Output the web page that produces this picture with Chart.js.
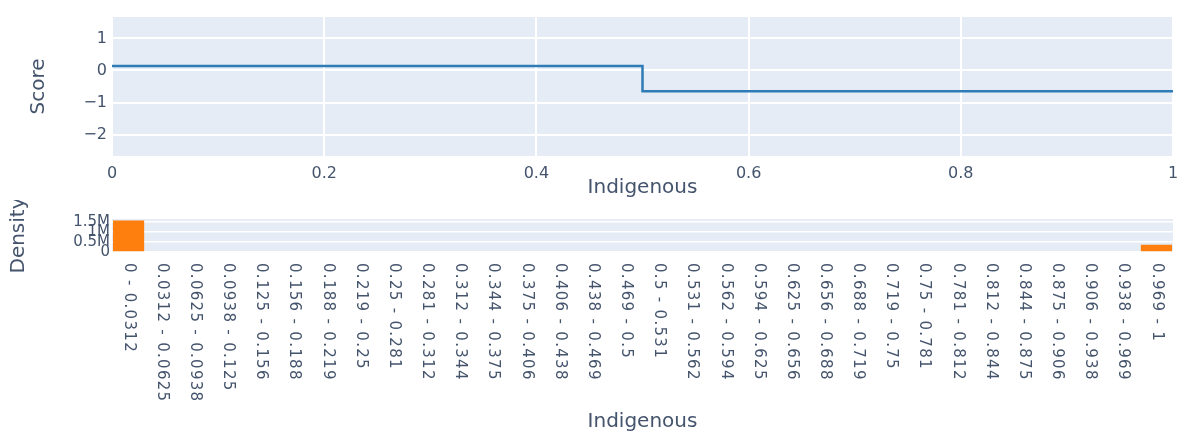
<!DOCTYPE html>
<html>
<head>
<meta charset="utf-8">
<script src="https://cdn.jsdelivr.net/npm/chart.js@4.4.1/dist/chart.umd.min.js"></script>
<style>
	html, body { margin: 0; padding: 0; background: #fff; }
	#scoreBox { position: absolute; left: 0; top: 0; width: 1192px; height: 200px; }
	#densityBox { position: absolute; left: 0; top: 200px; width: 1192px; height: 236px; }
</style>
</head>
<body>
<div id="scoreBox"><canvas id="score"></canvas></div>
<div id="densityBox"><canvas id="density"></canvas></div>
<script>
var scoreX = [0, 0.5, 0.5, 1];
var scoreY = [0.14, 0.14, -0.65, -0.65];

var binLabels = [
	'0 - 0.0312', '0.0312 - 0.0625', '0.0625 - 0.0938', '0.0938 - 0.125',
	'0.125 - 0.156', '0.156 - 0.188', '0.188 - 0.219', '0.219 - 0.25',
	'0.25 - 0.281', '0.281 - 0.312', '0.312 - 0.344', '0.344 - 0.375',
	'0.375 - 0.406', '0.406 - 0.438', '0.438 - 0.469', '0.469 - 0.5',
	'0.5 - 0.531', '0.531 - 0.562', '0.562 - 0.594', '0.594 - 0.625',
	'0.625 - 0.656', '0.656 - 0.688', '0.688 - 0.719', '0.719 - 0.75',
	'0.75 - 0.781', '0.781 - 0.812', '0.812 - 0.844', '0.844 - 0.875',
	'0.875 - 0.906', '0.906 - 0.938', '0.938 - 0.969', '0.969 - 1'
];
var densityValues = [
	1580000, 0, 0, 0, 0, 0, 0, 0, 0, 0, 0, 0, 0, 0, 0, 0,
	0, 0, 0, 0, 0, 0, 0, 0, 0, 0, 0, 0, 0, 0, 0, 360000
];
var densityTicks = [0, 500000, 1000000, 1500000];
var densityTickLabels = ['0', '0.5M', '1M', '1.5M'];

var COLORS = {
	line: '#2f7bb6',
	bar: '#ff7f0e',
	plotBg: '#e5ecf6',
	grid: '#ffffff',
	text: '#44546c'
};
var FONT = 'DejaVu Sans';

Chart.defaults.font.family = FONT;
Chart.defaults.color = COLORS.text;

// paint the plotly-like background behind the plot area
var plotBackground = {
	id: 'plotBackground',
	beforeDraw: function (chart) {
		var a = chart.chartArea;
		var ctx = chart.ctx;
		ctx.save();
		ctx.fillStyle = COLORS.plotBg;
		ctx.fillRect(a.left, a.top, a.right - a.left, a.bottom - a.top);
		ctx.restore();
	}
};

// bin labels turned clockwise, reading down from the axis
var rotatedLabels = {
	id: 'rotatedLabels',
	afterDraw: function (chart) {
		var scale = chart.scales.x;
		var ctx = chart.ctx;
		ctx.save();
		ctx.font = '15px "' + FONT + '"';
		ctx.letterSpacing = '1.3px';
		ctx.fillStyle = COLORS.text;
		ctx.textAlign = 'left';
		ctx.textBaseline = 'middle';
		binLabels.forEach(function (label, i) {
			ctx.save();
			ctx.translate(scale.getPixelForValue(i), chart.chartArea.bottom + 11);
			ctx.rotate(Math.PI / 2);
			ctx.fillText(label, 0, 0);
			ctx.restore();
		});
		ctx.restore();
	}
};

var scoreData = {
	datasets: [{
		label: 'Score',
		data: scoreX.map(function (x, i) { return { x: x, y: scoreY[i] }; }),
		borderColor: COLORS.line,
		backgroundColor: COLORS.line,
		borderWidth: 2.5,
		pointRadius: 0,
		tension: 0
	}]
};

var scoreOptions = {
	responsive: true,
	maintainAspectRatio: false,
	animation: false,
	layout: {
		padding: { left: 0, right: 19, top: 16, bottom: 0 }
	},
	scales: {
		x: {
			type: 'linear',
			min: 0,
			max: 1,
			border: { display: false },
			grid: { color: COLORS.grid, lineWidth: 2, drawTicks: false },
			ticks: {
				stepSize: 0.2,
				padding: 7,
				font: { size: 16 },
				callback: function (value) {
					return String(Math.round(value * 10) / 10);
				}
			},
			title: {
				display: true,
				text: 'Indigenous',
				font: { size: 20 },
				padding: { top: 0, bottom: 0 }
			},
			afterFit: function (scale) {
				scale.height = 43;
			}
		},
		y: {
			min: -2.7,
			max: 1.7,
			border: { display: false },
			grid: { color: COLORS.grid, lineWidth: 2, drawTicks: false },
			ticks: {
				stepSize: 1,
				padding: 5,
				font: { size: 16 },
				callback: function (value) {
					if (Math.abs(value - Math.round(value)) > 1e-6) return '';
					return String(Math.round(value)).replace('-', '\u2212');
				}
			},
			title: {
				display: true,
				text: 'Score',
				font: { size: 20 },
				padding: { top: 27, bottom: 0 }
			},
			afterFit: function (scale) {
				scale.width = 112;
			}
		}
	},
	plugins: {
		legend: { display: false },
		tooltip: { enabled: false }
	}
};

var scoreChart = new Chart(document.getElementById('score'), {
	type: 'line',
	data: scoreData,
	options: scoreOptions,
	plugins: [plotBackground]
});

var densityData = {
	labels: binLabels,
	datasets: [{
		label: 'Density',
		data: densityValues,
		backgroundColor: COLORS.bar,
		borderWidth: 0,
		categoryPercentage: 1,
		barPercentage: 0.94
	}]
};

var densityOptions = {
	responsive: true,
	maintainAspectRatio: false,
	animation: false,
	layout: {
		padding: { left: 0, right: 19, top: 19, bottom: 0 }
	},
	scales: {
		x: {
			border: { display: false },
			grid: { display: false },
			ticks: { display: false },
			title: {
				display: true,
				text: 'Indigenous',
				font: { size: 20 },
				padding: { top: 0, bottom: 2 }
			},
			afterFit: function (scale) {
				scale.height = 184;
			}
		},
		y: {
			min: 0,
			max: 1650000,
			border: { display: false },
			grid: { color: COLORS.grid, lineWidth: 1.5, drawTicks: false },
			afterBuildTicks: function (scale) {
				scale.ticks = densityTicks.map(function (v) { return { value: v }; });
			},
			ticks: {
				autoSkip: false,
				padding: 2,
				font: { size: 15 },
				callback: function (value) {
					var i = densityTicks.indexOf(value);
					return i < 0 ? '' : densityTickLabels[i];
				}
			},
			title: {
				display: true,
				text: 'Density',
				font: { size: 20 },
				padding: { top: 7, bottom: 0 }
			},
			afterFit: function (scale) {
				scale.width = 112;
			}
		}
	},
	plugins: {
		legend: { display: false },
		tooltip: { enabled: false }
	}
};

var densityChart = new Chart(document.getElementById('density'), {
	type: 'bar',
	data: densityData,
	options: densityOptions,
	plugins: [plotBackground, rotatedLabels]
});
</script>
</body>
</html>
